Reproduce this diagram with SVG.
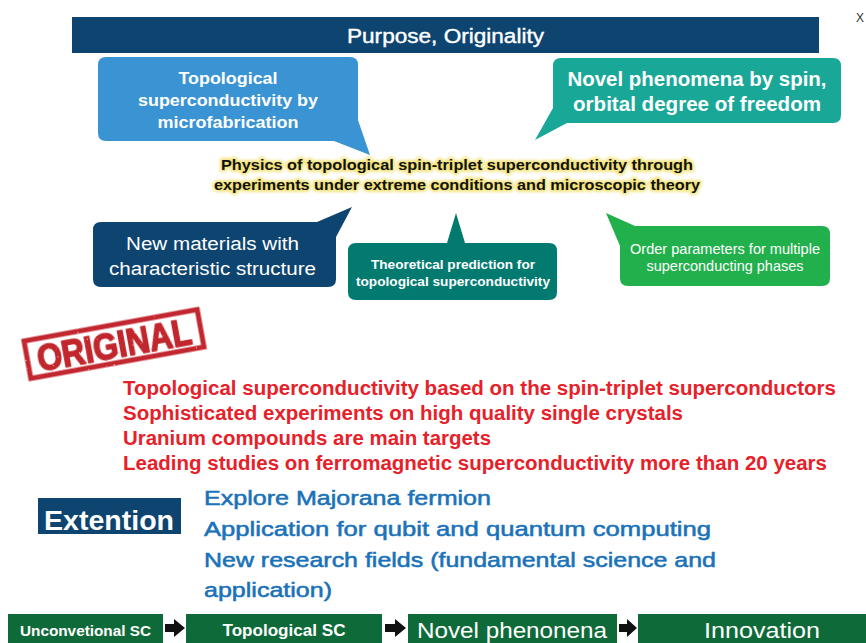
<svg xmlns="http://www.w3.org/2000/svg" width="866" height="643" viewBox="0 0 866 643">
  <defs>
    <style>
      .sans { font-family: "Liberation Sans", Arial, sans-serif; }
      .w { fill: #ffffff; }
      .b { font-weight: bold; }
      .mid { text-anchor: middle; }
      .red { fill: #e62129; font-weight: bold; font-size: 19.5px; }
      .blue { fill: #1a72b9; font-size: 21px; stroke: #1a72b9; stroke-width: 0.55; }
      .glow { fill: #f3e37a; stroke: #f3e37a; stroke-width: 4; stroke-linejoin: round; }
      .step { fill: #0f6a39; }
    </style>
    <filter id="halo" x="-5%" y="-30%" width="110%" height="160%">
      <feGaussianBlur stdDeviation="1.6"/>
    </filter>
    <filter id="grunge" x="-5%" y="-10%" width="110%" height="120%">
      <feTurbulence type="fractalNoise" baseFrequency="0.5" numOctaves="2" seed="4" result="noise"/>
      <feColorMatrix in="noise" type="matrix" values="0 0 0 0 0  0 0 0 0 0  0 0 0 0 0  0 0 0 -9 7.6" result="holes"/>
      <feComposite in="SourceGraphic" in2="holes" operator="in"/>
    </filter>
  </defs>

  <rect width="866" height="643" fill="#ffffff"/>

  <!-- title banner -->
  <g id="banner">
    <rect x="72" y="17" width="747" height="36" fill="#0e4470"/>
    <text x="445.5" y="43" class="sans w mid" font-size="20.5" stroke="#ffffff" stroke-width="0.4" textLength="197" lengthAdjust="spacingAndGlyphs">Purpose, Originality</text>
  </g>
  <text x="860" y="22" class="sans mid" font-size="12" fill="#333333">X</text>

  <!-- speech bubbles around the central theme -->
  <g id="bubble-microfab">
    <path d="M106,57 H350 Q358,57 358,65 V120 L370,155 L334,141 H106 Q98,141 98,133 V65 Q98,57 106,57 Z" fill="#3a94d3"/>
    <text x="228" y="84" class="sans w b mid" font-size="17" textLength="99" lengthAdjust="spacingAndGlyphs">Topological</text>
    <text x="228" y="106" class="sans w b mid" font-size="17" textLength="180" lengthAdjust="spacingAndGlyphs">superconductivity by</text>
    <text x="228" y="128" class="sans w b mid" font-size="17" textLength="141" lengthAdjust="spacingAndGlyphs">microfabrication</text>
  </g>

  <g id="bubble-spin">
    <path d="M561,58 H833 Q841,58 841,66 V115 Q841,123 833,123 H567 L535,140 L553,108 V66 Q553,58 561,58 Z" fill="#19a898"/>
    <text x="697" y="86" class="sans w b mid" font-size="20" textLength="259" lengthAdjust="spacingAndGlyphs">Novel phenomena by spin,</text>
    <text x="697" y="111" class="sans w b mid" font-size="20" textLength="248" lengthAdjust="spacingAndGlyphs">orbital degree of freedom</text>
  </g>

  <g id="theme">
    <g filter="url(#halo)">
      <text x="457" y="170" class="sans b mid glow" font-size="15" textLength="472" lengthAdjust="spacingAndGlyphs">Physics of topological spin-triplet superconductivity through</text>
      <text x="457" y="190" class="sans b mid glow" font-size="15" textLength="486" lengthAdjust="spacingAndGlyphs">experiments under extreme conditions and microscopic theory</text>
    </g>
    <text x="457" y="170" class="sans b mid" font-size="15" fill="#111111" textLength="472" lengthAdjust="spacingAndGlyphs">Physics of topological spin-triplet superconductivity through</text>
    <text x="457" y="190" class="sans b mid" font-size="15" fill="#111111" textLength="486" lengthAdjust="spacingAndGlyphs">experiments under extreme conditions and microscopic theory</text>
  </g>

  <g id="bubble-materials">
    <path d="M101,222 H317 L352,207 L336,237 V279 Q336,287 328,287 H101 Q93,287 93,279 V230 Q93,222 101,222 Z" fill="#0e4470"/>
    <text x="212.5" y="250" class="sans w mid" font-size="18" textLength="173" lengthAdjust="spacingAndGlyphs">New materials with</text>
    <text x="212.5" y="275" class="sans w mid" font-size="18" textLength="207" lengthAdjust="spacingAndGlyphs">characteristic structure</text>
  </g>

  <g id="bubble-theory">
    <path d="M356,243 H447 L456,213 L465,243 H549 Q557,243 557,251 V292 Q557,300 549,300 H356 Q348,300 348,292 V251 Q348,243 356,243 Z" fill="#037a6f"/>
    <text x="453" y="269" class="sans w b mid" font-size="13" textLength="164" lengthAdjust="spacingAndGlyphs">Theoretical prediction for</text>
    <text x="453" y="286" class="sans w b mid" font-size="13" textLength="194" lengthAdjust="spacingAndGlyphs">topological superconductivity</text>
  </g>

  <g id="bubble-order">
    <path d="M635,226 H822 Q830,226 830,234 V278 Q830,286 822,286 H628 Q620,286 620,278 V246 L606,213 Z" fill="#21b04b"/>
    <text x="725" y="254" class="sans w mid" font-size="14" textLength="190" lengthAdjust="spacingAndGlyphs">Order parameters for multiple</text>
    <text x="725" y="271" class="sans w mid" font-size="14" textLength="157" lengthAdjust="spacingAndGlyphs">superconducting phases</text>
  </g>

  <!-- ORIGINAL rubber stamp -->
  <g id="stamp" transform="translate(114,344) rotate(-10.3)" filter="url(#grunge)">
    <rect x="-88" y="-19" width="176" height="38" fill="none" stroke="#c2272d" stroke-width="5"/>
    <text x="0" y="13.5" class="sans b mid" font-size="37" fill="#c2272d" stroke="#c2272d" stroke-width="1.6" stroke-linejoin="round" textLength="156" lengthAdjust="spacingAndGlyphs">ORIGINAL</text>
  </g>

  <g id="original-points">
    <text x="123" y="395" class="sans red" textLength="713" lengthAdjust="spacingAndGlyphs">Topological superconductivity based on the spin-triplet superconductors</text>
    <text x="123" y="420" class="sans red" textLength="560" lengthAdjust="spacingAndGlyphs">Sophisticated experiments on high quality single crystals</text>
    <text x="123" y="445" class="sans red" textLength="368" lengthAdjust="spacingAndGlyphs">Uranium compounds are main targets</text>
    <text x="123" y="470" class="sans red" textLength="704" lengthAdjust="spacingAndGlyphs">Leading studies on ferromagnetic superconductivity more than 20 years</text>
  </g>

  <g id="extension">
    <rect x="38" y="498" width="143" height="36" fill="#0e4470"/>
    <text x="109" y="530" class="sans w b mid" font-size="28" textLength="130" lengthAdjust="spacingAndGlyphs">Extention</text>
    <text x="204" y="505" class="sans blue" textLength="287" lengthAdjust="spacingAndGlyphs">Explore Majorana fermion</text>
    <text x="204" y="536" class="sans blue" textLength="507" lengthAdjust="spacingAndGlyphs">Application for qubit and quantum computing</text>
    <text x="204" y="567" class="sans blue" textLength="512" lengthAdjust="spacingAndGlyphs">New research fields (fundamental science and</text>
    <text x="204" y="597" class="sans blue" textLength="128" lengthAdjust="spacingAndGlyphs">application)</text>
  </g>

  <!-- progression strip along the bottom -->
  <g id="step-unconventional">
    <rect x="8" y="614" width="155" height="32" class="step"/>
    <text x="85.5" y="636" class="sans w b mid" font-size="14" textLength="131" lengthAdjust="spacingAndGlyphs">Unconvetional SC</text>
  </g>
  <g id="step-topological">
    <rect x="186" y="614" width="196" height="32" class="step"/>
    <text x="284" y="636" class="sans w b mid" font-size="16" textLength="123" lengthAdjust="spacingAndGlyphs">Topological SC</text>
  </g>
  <g id="step-novel">
    <rect x="408" y="614" width="209" height="32" class="step"/>
    <text x="512" y="638" class="sans w mid" font-size="22" textLength="190" lengthAdjust="spacingAndGlyphs">Novel phenonena</text>
  </g>
  <g id="step-innovation">
    <rect x="638" y="614" width="228" height="32" class="step"/>
    <text x="762" y="638" class="sans w mid" font-size="22" textLength="116" lengthAdjust="spacingAndGlyphs">Innovation</text>
  </g>

  <g id="connectors" fill="#111111">
    <path d="M165,624 H174 V619 L185,628 L174,637 V632 H165 Z"/>
    <path d="M385,624 H395 V619 L406,628 L395,637 V632 H385 Z"/>
    <path d="M619,624 H627 V619 L637,628 L627,637 V632 H619 Z"/>
  </g>
</svg>
